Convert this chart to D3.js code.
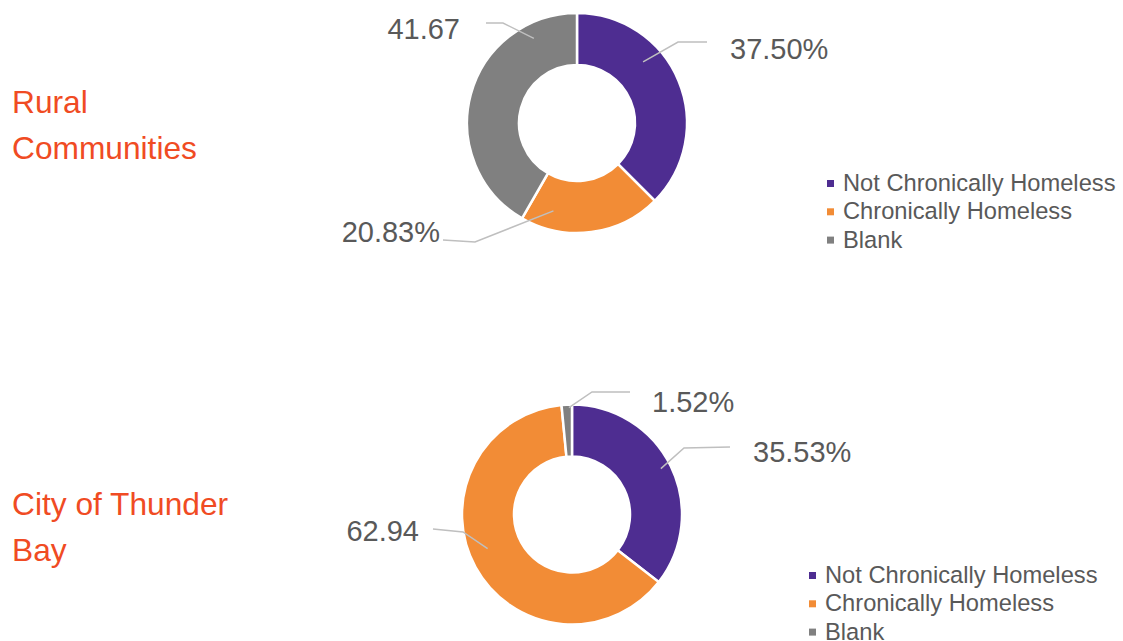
<!DOCTYPE html>
<html>
<head>
<meta charset="utf-8">
<script src="https://cdn.jsdelivr.net/npm/d3@7"></script>
<style>
  body { margin: 0; background: #fff; }
  text { font-family: "Liberation Sans", Arial, sans-serif; }
</style>
</head>
<body>
<div id="chart"></div>
<script>
var w = 1123,
    h = 641;

// data
var categories = ["Not Chronically Homeless", "Chronically Homeless", "Blank"];
var ruralValues = [37.50, 20.83, 41.67];
var ruralLabels = ["37.50%", "20.83%", "41.67"];
var thunderBayValues = [35.53, 62.94, 1.52];
var thunderBayLabels = ["35.53%", "62.94", "1.52%"];

var palette = ['#4E2D91', '#F28C36', '#808080'];
var titleColor = '#F04B23';
var labelColor = '#595959';
var leaderColor = '#BFBFBF';

var rInner = 58, rOuter = 110;

// layout: label leader lines (t = fraction along slice, rr = radius of inner end,
// elbow/end/text offsets relative to the donut centre)
var charts = [
    {
        title: ["Rural", "Communities"], titleY: 113,
        cx: 577, cy: 123,
        values: ruralValues, labels: ruralLabels,
        legendX: 827, legendY: 191,
        leaders: [
            { t: 0.35, rr: 90, elbow: [101, -81], end: [130, -81], text: [153, -64], anchor: 'start' },
            { t: 0.80, rr: 91, elbow: [-102, 119], end: [-134, 117], text: [-137, 119], anchor: 'end' },
            { t: 0.82, rr: 95, elbow: [-74, -100], end: [-91, -100], text: [-117, -84], anchor: 'end' }
        ]
    },
    {
        title: ["City of Thunder", "Bay"], titleY: 515,
        cx: 572, cy: 514.5,
        values: thunderBayValues, labels: thunderBayLabels,
        legendX: 809, legendY: 583,
        leaders: [
            { t: 0.49, rr: 100, elbow: [112, -66.5], end: [158, -67.5], text: [181, -52.5], anchor: 'start' },
            { t: 0.53, rr: 91, elbow: [-109, 17.5], end: [-139, 14.5], text: [-153, 26.5], anchor: 'end' },
            { t: 0.70, rr: 107, elbow: [20, -122.5], end: [58, -122.5], text: [80, -102.5], anchor: 'start' }
        ]
    }
];

var svg = d3.select('#chart')
    .append('svg')
    .attr('width', w)
    .attr('height', h);

var pie = d3.pie().sort(null).value(function(d) { return d; });
var arc = d3.arc().innerRadius(rInner).outerRadius(rOuter);
var color = d3.scaleOrdinal().domain(categories).range(palette);

charts.forEach(function(c) {
    // title
    svg.append('text')
        .attr('x', 12)
        .attr('y', c.titleY)
        .attr('fill', titleColor)
        .attr('font-size', '31.7px')
        .selectAll('tspan')
        .data(c.title).enter()
        .append('tspan')
        .attr('x', 12)
        .attr('dy', function(d, i) { return i ? 46 : 0; })
        .text(function(d) { return d; });

    var g = svg.append('g')
        .attr('transform', 'translate(' + c.cx + ',' + c.cy + ')');

    var arcs = pie(c.values);

    g.selectAll('path')
        .data(arcs).enter()
        .append('path')
        .attr('d', arc)
        .attr('fill', function(d, i) { return color(categories[i]); })
        .attr('stroke', '#fff')
        .attr('stroke-width', 2.5);

    // leader lines
    g.selectAll('polyline')
        .data(arcs).enter()
        .append('polyline')
        .attr('fill', 'none')
        .attr('stroke', leaderColor)
        .attr('stroke-width', 1.5)
        .attr('points', function(d, i) {
            var L = c.leaders[i];
            var a = d.startAngle + L.t * (d.endAngle - d.startAngle);
            var p = d3.pointRadial(a, L.rr);
            return [p, L.elbow, L.end].map(function(q) { return q.join(','); }).join(' ');
        });

    g.selectAll('text.lbl')
        .data(arcs).enter()
        .append('text')
        .attr('class', 'lbl')
        .attr('x', function(d, i) { return c.leaders[i].text[0]; })
        .attr('y', function(d, i) { return c.leaders[i].text[1]; })
        .attr('text-anchor', function(d, i) { return c.leaders[i].anchor; })
        .attr('fill', labelColor)
        .attr('font-size', '29px')
        .text(function(d, i) { return c.labels[i]; });

    // legend
    var lg = svg.append('g')
        .attr('transform', 'translate(' + c.legendX + ',' + c.legendY + ')');

    var item = lg.selectAll('g')
        .data(categories).enter()
        .append('g')
        .attr('transform', function(d, i) { return 'translate(0,' + (i * 28.3) + ')'; });

    item.append('rect')
        .attr('x', 0)
        .attr('y', -11)
        .attr('width', 7)
        .attr('height', 7)
        .attr('fill', function(d) { return color(d); });

    item.append('text')
        .attr('x', 16)
        .attr('y', 0)
        .attr('fill', labelColor)
        .attr('font-size', '23.7px')
        .text(function(d) { return d; });
});
</script>
</body>
</html>
